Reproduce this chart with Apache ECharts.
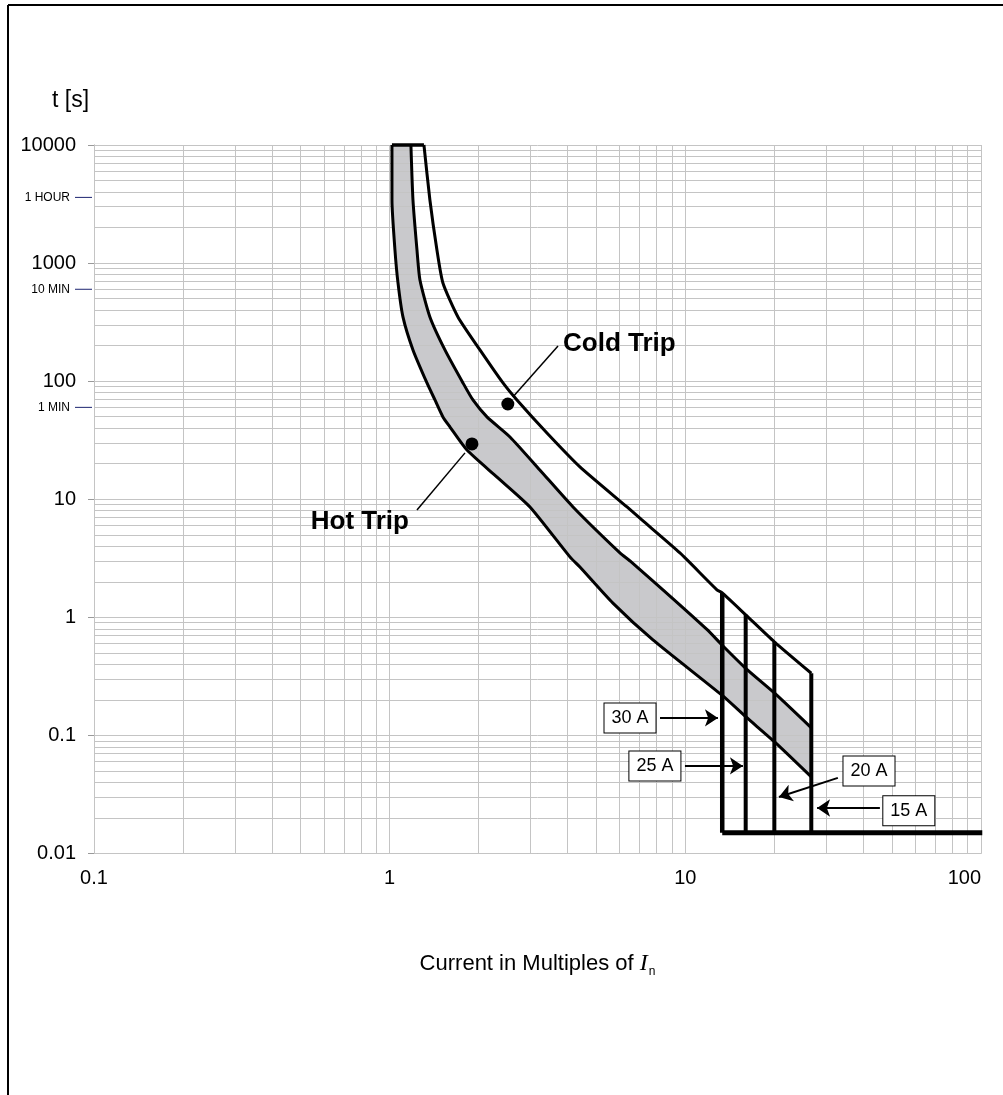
<!DOCTYPE html>
<html>
<head>
<meta charset="utf-8">
<script src="https://cdn.jsdelivr.net/npm/echarts@6/dist/echarts.min.js"></script>
<style>
  html, body { margin: 0; padding: 0; background: #fff; }
  #main { width: 1003px; height: 1095px; }
</style>
</head>
<body>
<div id="main"></div>
<script>
// ====== data ======
// hot trip curve (left edge of the grey band)
var hotX = [1.018, 1.018, 1.042, 1.067, 1.109, 1.199, 1.337, 1.423, 1.514, 1.60, 1.826, 2.307, 2.982, 4.07, 4.40, 5.69, 7.77, 13.33, 16, 20, 26.67];
var hotY = [10000, 3420, 1291, 679, 350, 184, 96.6, 69.3, 49.8, 40.9, 26.1, 15.4, 8.6, 3.25, 2.67, 1.32, 0.644, 0.218, 0.144, 0.0885, 0.0445];
// middle curve (right edge of the grey band)
var midX = [1.18, 1.199, 1.237, 1.266, 1.368, 1.538, 1.770, 1.913, 2.133, 2.552, 3.22, 4.17, 6.01, 6.50, 8.40, 11.83, 13.33, 16, 20, 26.67];
var midY = [10000, 3420, 1291, 719, 350, 184, 96.6, 69.3, 49.8, 33.7, 17.7, 8.6, 3.51, 3.0, 1.71, 0.79, 0.58, 0.37, 0.229, 0.116];
// cold trip curve
var coldX = [1.306, 1.368, 1.445, 1.514, 1.702, 2.020, 2.417, 2.695, 3.404, 4.40, 6.35, 7.13, 9.59, 12.79, 13.33, 16, 20, 26.67];
var coldY = [10000, 3420, 1291, 679, 350, 184, 96.6, 69.3, 36.4, 18.8, 8.6, 6.68, 3.51, 1.71, 1.61, 1.05, 0.62, 0.336];

// instantaneous trip lines (30 A, 25 A, 20 A, 15 A)
var ampNames = ['30 A', '25 A', '20 A', '15 A'];
var ampX = [13.33, 16, 20, 26.67];
var ampTop = [1.61, 1.05, 0.62, 0.336];
var ampFloor = 0.015;
var floorEndX = 101;
// label boxes and arrows
var boxX = [6.50, 7.89, 41.8, 57.0];
var boxY = [0.1406, 0.0552, 0.050, 0.023];
var arrowFrom = [[8.21, 0.1406], [9.97, 0.0552], [32.8, 0.0437], [45.5, 0.0243]];
var arrowTo = [[12.89, 0.1406], [15.66, 0.0552], [20.73, 0.0301], [27.9, 0.0243]];

// trip points
var coldDot = [2.51, 64.1];
var hotDot = [1.898, 29.4];
var coldLead = [[2.61, 73.5], [3.71, 198.7]];
var hotLead = [[1.798, 24.7], [1.237, 8.12]];

// time marks on the y axis
var timeMarkValues = [3600, 600, 60];
var timeMarkLabels = ['1 HOUR', '10 MIN', '1 MIN'];

// grid lines (decades and 2..9 inside each)
var xDecades = [0.1, 1, 10, 100];
var yDecades = [0.01, 0.1, 1, 10, 100, 1000, 10000];
var xGrid = [], yGrid = [];
xDecades.forEach(function (d, n) {
    xGrid.push(d);
    if (n < xDecades.length - 1) for (var k = 2; k <= 9; k++) xGrid.push(+(d * k).toPrecision(3));
});
yDecades.forEach(function (d, n) {
    yGrid.push(d);
    if (n < yDecades.length - 1) for (var k = 2; k <= 9; k++) yGrid.push(+(d * k).toPrecision(3));
});

function zip(xs, ys) {
    return xs.map(function (x, i) { return [x, ys[i]]; });
}

var FONT = 'Liberation Sans, Arial, sans-serif';
var GRID_COLOR = '#c4c4c4';

var chart = echarts.init(document.getElementById('main'));

var series = [];
// grey band between hot and middle curve
series.push({
    type: 'custom',
    data: [[1, 1]],
    z: 1,
    silent: true,
    renderItem: function (params, api) {
        var pts = [];
        for (var i = 0; i < hotX.length; i++) pts.push(api.coord([hotX[i], hotY[i]]));
        for (var j = midX.length - 1; j >= 0; j--) pts.push(api.coord([midX[j], midY[j]]));
        return { type: 'polygon', shape: { points: pts }, style: { fill: '#c9c9cc' } };
    }
});
// grid, drawn over the grey band
series.push({
    type: 'line',
    data: [],
    silent: true,
    z: 2,
    markLine: {
        z: 2,
        silent: true,
        symbol: ['none', 'none'],
        label: { show: false },
        lineStyle: { color: GRID_COLOR, width: 1, type: 'solid' },
        emphasis: { disabled: true },
        animation: false,
        data: xGrid.map(function (v) { return { xAxis: v }; })
            .concat(yGrid.map(function (v) { return { yAxis: v }; }))
    }
});
// the three curves
[[hotX, hotY], [midX, midY], [coldX, coldY]].forEach(function (c) {
    series.push({
        type: 'line', data: zip(c[0], c[1]), symbol: 'none', clip: false, z: 4,
        smooth: 0.2,
        lineStyle: { color: '#000', width: 3 }
    });
});
// top closing line
series.push({
    type: 'line', data: [[hotX[0], hotY[0]], [coldX[0], coldY[0]]], symbol: 'none', clip: false, z: 4,
    lineStyle: { color: '#000', width: 3.5 }
});
// vertical trip lines
ampX.forEach(function (x, i) {
    series.push({
        type: 'line', data: [[x, ampFloor], [x, ampTop[i]]], symbol: 'none', clip: false, z: 5,
        lineStyle: { color: '#000', width: i === 0 ? 4.5 : 4 }
    });
});
series.push({
    type: 'line', data: [[ampX[0], ampFloor], [floorEndX, ampFloor]], symbol: 'none', clip: false, z: 5,
    lineStyle: { color: '#000', width: 5 }
});
// arrows
series.push({
    type: 'lines',
    coordinateSystem: 'cartesian2d',
    z: 6,
    symbol: ['none', 'arrow'],
    symbolSize: [9, 13],
    lineStyle: { color: '#000', width: 2, opacity: 1 },
    data: arrowFrom.map(function (p, i) { return { coords: [p, arrowTo[i]] }; })
});
// boxes
series.push({
    type: 'scatter',
    z: 7,
    symbolSize: 0,
    itemStyle: { opacity: 1 },
    data: zip(boxX, boxY).map(function (p, i) { return { value: p, name: ampNames[i] }; }),
    label: {
        show: true, position: 'inside', formatter: '{b}',
        fontFamily: FONT, fontSize: 18, color: '#000',
        backgroundColor: '#fff', borderColor: '#000', borderWidth: 1,
        padding: [6, 7, 5, 7]
    }
});
// leader lines
[coldLead, hotLead].forEach(function (l) {
    series.push({
        type: 'line', data: l, symbol: 'none', clip: false, z: 6,
        lineStyle: { color: '#000', width: 1.5 }
    });
});
// dots
series.push({
    type: 'scatter', z: 7, symbol: 'circle', symbolSize: 13,
    itemStyle: { color: '#000', opacity: 1 },
    data: [coldDot, hotDot]
});
// trip texts
series.push({
    type: 'scatter', z: 7, symbolSize: 0,
    itemStyle: { opacity: 1 },
    data: [
        { value: coldLead[1], name: 'Cold Trip', label: { position: 'right', distance: 5, offset: [0, -2] } },
        { value: hotLead[1], name: 'Hot Trip', label: { position: 'left', distance: 8, offset: [0, 12] } }
    ],
    label: { show: true, formatter: '{b}', fontFamily: FONT, fontSize: 26, fontWeight: 'bold', color: '#000' }
});

var option = {
    animation: false,
    backgroundColor: '#fff',
    grid: { left: 94, right: 22, top: 145, bottom: 241.5 },
    xAxis: {
        type: 'log', logBase: 10, min: 0.1, max: 100,
        axisLine: { lineStyle: { color: '#999', width: 1 } },
        axisTick: { show: false },
        axisLabel: {
            fontFamily: FONT, fontSize: 20, color: '#000', margin: 15,
            alignMaxLabel: 'right',
            formatter: function (v) { return String(+v.toPrecision(4)); }
        },
        splitLine: { show: false },
        name: '{a|Current in Multiples of }{i|I}{s|n}',
        nameLocation: 'middle',
        nameGap: 96,
        nameTextStyle: {
            rich: {
                a: { fontFamily: FONT, fontSize: 22, color: '#000' },
                i: { fontFamily: 'Liberation Serif, serif', fontStyle: 'italic', fontSize: 24, color: '#000' },
                s: { fontFamily: FONT, fontSize: 12, color: '#000', padding: [16, 0, 0, 1] }
            }
        }
    },
    yAxis: {
        type: 'log', logBase: 10, min: 0.01, max: 10000,
        axisLine: { show: true, lineStyle: { color: '#999', width: 1 } },
        axisTick: { show: true, inside: false, length: 6, lineStyle: { color: '#999' } },
        axisLabel: {
            fontFamily: FONT, fontSize: 20, color: '#000', margin: 18,
            formatter: function (v) { return String(+v.toPrecision(4)); }
        },
        splitLine: { show: false }
    },
    series: series
};
chart.setOption(option);

// text and marks outside the plot
var graphics = [
    { type: 'line', shape: { x1: 8, y1: 5, x2: 1003, y2: 5 }, style: { stroke: '#000', lineWidth: 2 }, z: 10 },
    { type: 'line', shape: { x1: 8, y1: 5, x2: 8, y2: 1095 }, style: { stroke: '#000', lineWidth: 2 }, z: 10 },
    { type: 'text', x: 52, y: 101, style: { text: 't [s]', fontFamily: FONT, fontSize: 23, fill: '#000', verticalAlign: 'middle' } }
];
timeMarkValues.forEach(function (v, i) {
    var y = chart.convertToPixel({ yAxisIndex: 0 }, v);
    graphics.push({ type: 'line', shape: { x1: 75, y1: y, x2: 92, y2: y }, style: { stroke: '#1c2470', lineWidth: 1 } });
    graphics.push({
        type: 'text', x: 70, y: y,
        style: { text: timeMarkLabels[i], fontFamily: FONT, fontSize: 12, fill: '#000', align: 'right', verticalAlign: 'middle' }
    });
});
chart.setOption({ graphic: graphics });
</script>
</body>
</html>
